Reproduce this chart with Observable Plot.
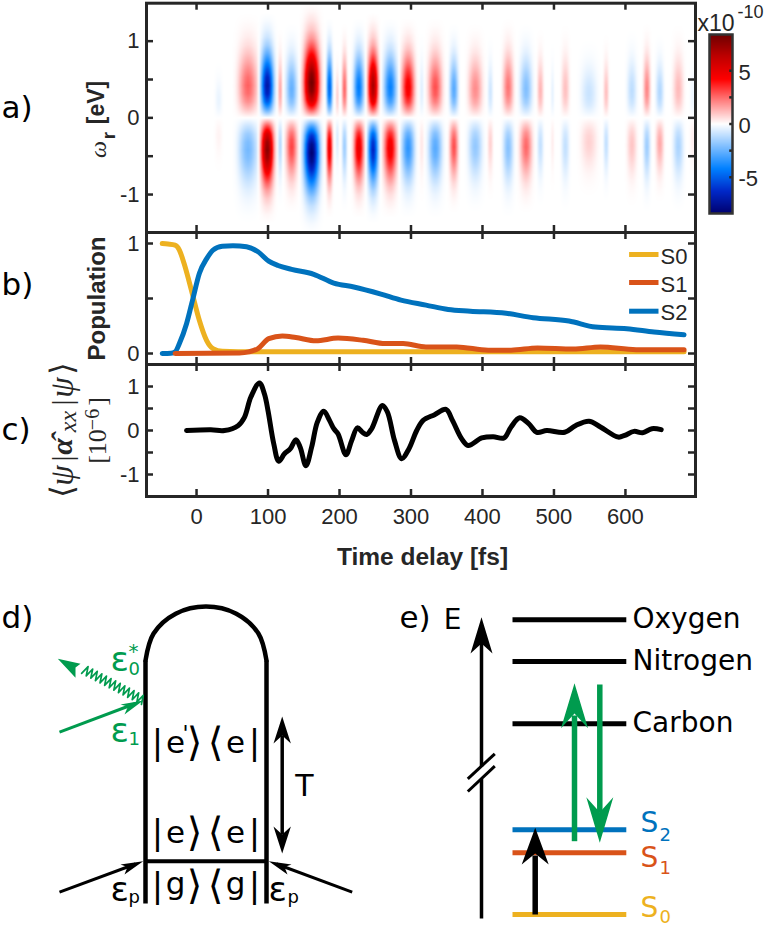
<!DOCTYPE html>
<html>
<head>
<meta charset="utf-8">
<script src="https://cdn.jsdelivr.net/npm/d3@7"></script>
<script src="https://cdn.jsdelivr.net/npm/@observablehq/plot@0.6"></script>
<style>
  body { margin: 0; background: #fff; }
  #chart { position: relative; width: 764px; height: 925px; overflow: hidden; }
  #chart svg { position: absolute; left: 0; top: 0; background: transparent; }
</style>
</head>
<body>
<div id="chart"></div>
<script>
// stripes of panel a, peak value above and below omega = 0
const stripeTime = [31, 72, 99, 117, 133, 161, 186, 197, 207, 227, 247, 271, 296, 315, 334, 360, 390, 411, 436, 461, 481, 498, 516, 549, 573, 609, 630, 648, 674, 694]
const stripeUpper = [-0.35, 2.7, -7.2, 1.5, -2.6, 8.4, -5, 0.8, 2.6, -4.4, 7, -4.2, 4.6, -0.5, 3, -2.8, 2, -0.8, 2.4, -2.1, 1.3, -0.4, 1.1, -0.9, 1.1, -1.1, 2.1, -1.3, 1.2, -0.3]
const stripeLower = [0.2, -2.3, 7.8, -1.2, 3.2, -8.4, 5, -0.6, -1.6, 5, -6.5, 4.8, -3.5, 0.4, -2.8, 3, -1.8, 0.8, -2, 2.6, -1, 0.3, -1, 0.8, -1, 1, -1.6, 1.5, -1.4, 0.3]
const stripeHalfWidth = [8, 22, 15, 5, 13, 18, 7, 4, 6, 12, 12, 15, 15, 5, 16, 10, 16, 6, 12, 14, 7, 4, 9, 18, 6, 11, 8, 9, 12, 6]
const stripeReach = [0.6, 1.05, 1.05, 0.9, 0.95, 1.15, 1, 0.7, 0.95, 1, 1.05, 1, 1, 0.9, 1, 0.95, 0.95, 0.85, 1, 0.95, 0.9, 0.8, 0.95, 0.8, 0.85, 0.9, 0.95, 0.85, 0.95, 0.7]
const omegaSteps = [0, 0.1, 0.2, 0.3, 0.4, 0.5, 0.6, 0.7, 0.8, 0.9, 1, 1.1, 1.2, 1.3]
const omegaProfile = [0, 0.38, 0.72, 0.93, 1, 0.92, 0.75, 0.55, 0.37, 0.22, 0.12, 0.06, 0.02, 0]
const bumpSteps = [0, 0.17, 0.33, 0.5, 0.67, 0.83, 1]
const bumpProfile = [1, 0.92, 0.72, 0.45, 0.2, 0.06, 0]
const mapStops = ['#00006e', '#0028c8', '#0080ff', '#80bfff', '#ffffff', '#ff8585', '#ff0000', '#c00000', '#6e0000']

// populations of panel b
const s0Time = [-48, -40, -30, -24, -17.5, -11, -5, 4, 14, 23, 36, 80, 682]
const s0Value = [1, 0.995, 0.985, 0.94, 0.82, 0.67, 0.52, 0.3, 0.12, 0.045, 0.02, 0.015, 0.015]
const s1Time = [-30, 60, 73, 86, 101, 120, 139, 167, 198, 233, 264, 289, 321, 364, 408, 440, 477, 527, 565, 615, 682]
const s1Value = [0, 0.005, 0.015, 0.045, 0.135, 0.16, 0.145, 0.115, 0.14, 0.12, 0.09, 0.09, 0.06, 0.06, 0.03, 0.03, 0.05, 0.04, 0.06, 0.035, 0.035]
const s2Time = [-48, -36, -30, -24, -14, -5, 4, 14, 23, 36, 51, 70, 86, 101, 114, 133, 164, 192, 220, 258, 286, 321, 352, 383, 433, 471, 521, 558, 602, 640, 682]
const s2Value = [0, 0.003, 0.015, 0.09, 0.27, 0.5, 0.73, 0.86, 0.94, 0.975, 0.98, 0.97, 0.925, 0.84, 0.8, 0.765, 0.72, 0.64, 0.605, 0.54, 0.485, 0.44, 0.4, 0.385, 0.365, 0.325, 0.295, 0.24, 0.225, 0.195, 0.17]

// signal of panel c
const sigTime = [-14, 20, 39, 58, 67, 76, 88, 95, 100, 108, 115, 123, 131, 139, 145, 153, 161, 169, 178, 186, 192, 198, 209, 217, 225, 232, 238, 245, 260, 267, 277, 287, 297, 308, 317, 333, 349, 358, 371, 380, 399, 415, 430, 440, 452, 465, 476, 490, 515, 530, 549, 565, 590, 599, 612, 624, 637, 650]
const sigValue = [0, 0.015, 0, 0.11, 0.3, 0.76, 1.08, 0.83, 0.45, -0.3, -0.7, -0.53, -0.42, -0.21, -0.38, -0.8, -0.38, 0.19, 0.44, 0.23, 0.04, -0.08, -0.55, -0.23, 0.06, -0.04, -0.09, 0.04, 0.57, 0.42, -0.23, -0.64, -0.42, 0, 0.23, 0.36, 0.48, 0.23, -0.19, -0.34, -0.17, -0.14, -0.17, 0.08, 0.29, 0.15, -0.04, 0, -0.04, 0.11, 0.21, 0.08, -0.15, -0.11, -0.02, -0.05, 0.04, 0.02]

const timeTicks = [0, 100, 200, 300, 400, 500, 600]
const xDomain = [-70, 698]
const axisColor = '#262626'
const colors = {S0: '#EDB120', S1: '#D95319', S2: '#0072BD'}
const green = '#009B4E'

// energy levels of panel e
const levelNames = ['Oxygen', 'Nitrogen', 'Carbon', 'S2', 'S1', 'S0']
const levelY = [619.3, 661, 723.3, 829.3, 852.3, 914]
const levelColor = ['#000', '#000', '#000', colors.S2, colors.S1, colors.S0]

const table = (xs, ys) => xs.map((x, i) => ({x, y: ys[i]}))
const omegaLookup = d3.scaleLinear(omegaSteps, omegaProfile).clamp(true)
const bumpLookup = d3.scaleLinear(bumpSteps, bumpProfile).clamp(true)

const spectrum = (t, w) => {
  const amps = w >= 0 ? stripeUpper : stripeLower
  let v = 0
  stripeTime.forEach((c, i) => {
    v += amps[i] * bumpLookup(Math.abs(t - c) / stripeHalfWidth[i]) * omegaLookup(Math.abs(w) / stripeReach[i])
  })
  return v
}

const colorScale = {type: 'linear', domain: [-8.4, 8.4], interpolate: d3.piecewise(d3.interpolateRgb, mapStops)}

// one svg per panel, all of them page sized and stacked, the margins place the frame
const panelStyle = {fontFamily: 'Liberation Sans', fontSize: '22px', color: axisColor, background: 'transparent'}
const panel = (top, bottom, yDomain, yTicks, minorTicks, marks, showTime) => {
  const tickY = (yDomain[1] - yDomain[0]) / (bottom - top) * 7
  const tickX = (xDomain[1] - xDomain[0]) / 549 * 7
  return Plot.plot({
    width: 764,
    height: 925,
    marginLeft: 146,
    marginRight: 764 - 695,
    marginTop: top,
    marginBottom: 925 - bottom,
    style: panelStyle,
    color: colorScale,
    x: {domain: xDomain, label: null},
    y: {domain: yDomain, label: null},
    marks: [
      ...marks,
      Plot.ruleX(timeTicks, {x: d => d, y1: yDomain[0], y2: yDomain[0] + tickY, stroke: axisColor, strokeWidth: 2.5}),
      Plot.ruleX(timeTicks, {x: d => d, y1: yDomain[1], y2: yDomain[1] - tickY, stroke: axisColor, strokeWidth: 2.5}),
      Plot.ruleY(yTicks.concat(minorTicks), {y: d => d, x1: xDomain[0], x2: xDomain[0] + tickX, stroke: axisColor, strokeWidth: 2.5}),
      Plot.ruleY(yTicks.concat(minorTicks), {y: d => d, x1: xDomain[1], x2: xDomain[1] - tickX, stroke: axisColor, strokeWidth: 2.5}),
      Plot.frame({stroke: axisColor, strokeWidth: 3}),
      Plot.axisY(yTicks, {anchor: 'left', tickSize: 0, tickPadding: 7, tickFormat: d => String(d), label: null, fontSize: 22, fill: axisColor}),
      showTime
        ? Plot.axisX(timeTicks, {anchor: 'bottom', tickSize: 0, tickPadding: 12, tickFormat: d => String(d), label: null, fontSize: 22, fill: axisColor})
        : Plot.axisX([], {anchor: 'bottom', tickSize: 0, label: null}),
    ],
  })
}

const panelA = panel(2.7, 232, [-1.495, 1.495], [-1, 0, 1], [-0.5, 0.5], [
  Plot.raster({x1: xDomain[0], x2: xDomain[1], y1: -1.495, y2: 1.495, fill: spectrum}),
])

const popLine = (xs, ys, color) => Plot.line(table(xs, ys), {x: 'x', y: 'y', stroke: color, strokeWidth: 5, curve: 'monotone-x'})
const panelB = panel(232, 364, [-0.1, 1.1], [0, 1], [0.5], [
  popLine(s0Time, s0Value, colors.S0),
  popLine(s2Time, s2Value, colors.S2),
  popLine(s1Time, s1Value, colors.S1),
])

const panelC = panel(364, 496, [-1.5, 1.5], [-1, 0, 1], [-0.5, 0.5], [
  Plot.line(table(sigTime, sigValue), {x: 'x', y: 'y', stroke: '#000', strokeWidth: 5, curve: 'catmull-rom'}),
], true)

// colour bar
const barMinor = [-2.5, 2.5]
const barTicks = [-5, 0, 5]
const colorBar = Plot.plot({
  width: 764,
  height: 925,
  marginLeft: 709,
  marginRight: 764 - 732,
  marginTop: 34,
  marginBottom: 925 - 213,
  style: panelStyle,
  color: colorScale,
  x: {domain: [0, 1], axis: null},
  y: {domain: [-8.4, 8.4], axis: null},
  marks: [
    Plot.raster({x1: 0, x2: 1, y1: -8.4, y2: 8.4, fill: (x, y) => y}),
    Plot.ruleY(barTicks.concat(barMinor), {y: d => d, x1: 0.88, x2: 1, stroke: axisColor, strokeWidth: 2.5}),
    Plot.frame({stroke: '#333', strokeWidth: 2.5}),
    Plot.text(barTicks, {y: d => d, x: 1, dx: 6, dy: 2, text: d => String(d), textAnchor: 'start', fontSize: 22, fill: axisColor}),
  ],
})

// everything else is placed in page pixels
const sans = 'DejaVu Sans'
const arial = 'Liberation Sans'
const serif = 'Liberation Serif'
const labels = [
  // panel letters
  {x: 1, y: 108, text: 'a)', size: 31, font: sans},
  {x: 1, y: 285, text: 'b)', size: 31, font: sans},
  {x: 1, y: 430, text: 'c)', size: 31, font: sans},
  {x: 1, y: 618, text: 'd)', size: 31, font: sans},
  {x: 399, y: 618, text: 'e)', size: 31, font: sans},
  // axis title
  {x: 422, y: 557, text: 'Time delay [fs]', size: 24.5, font: arial, weight: 'bold', fill: axisColor, anchor: 'middle'},
  // colour bar exponent
  {x: 697, y: 23, text: 'x10', size: 23, font: arial, fill: axisColor},
  {x: 737, y: 12, text: '-10', size: 18, font: arial, fill: axisColor},
  // legend
  {x: 660, y: 256, text: 'S0', size: 22, font: arial, fill: axisColor},
  {x: 660, y: 284, text: 'S1', size: 22, font: arial, fill: axisColor},
  {x: 660, y: 312, text: 'S2', size: 22, font: arial, fill: axisColor},
  // panel d
  {x: 304, y: 786, text: 'T', size: 30, font: sans, anchor: 'middle'},
  {x: 110, y: 660, text: 'ε', size: 34, font: sans, fill: green},
  {x: 128, y: 669, text: '0', size: 18, font: sans, fill: green},
  {x: 128, y: 651, text: '*', size: 20, font: sans, fill: green},
  {x: 110, y: 731, text: 'ε', size: 34, font: sans, fill: green},
  {x: 128, y: 739, text: '1', size: 18, font: sans, fill: green},
  {x: 110, y: 890, text: 'ε', size: 34, font: sans},
  {x: 128, y: 897, text: 'p', size: 18, font: sans},
  {x: 268, y: 890, text: 'ε', size: 34, font: sans},
  {x: 287, y: 897, text: 'p', size: 18, font: sans},
  // panel e
  {x: 452, y: 620, text: 'E', size: 28, font: sans, anchor: 'middle'},
  {x: 632, y: 619, text: 'Oxygen', size: 28, font: sans},
  {x: 632, y: 661, text: 'Nitrogen', size: 28, font: sans},
  {x: 632, y: 723, text: 'Carbon', size: 28, font: sans},
  {x: 640, y: 823, text: 'S', size: 28, font: sans, fill: colors.S2},
  {x: 659, y: 835, text: '2', size: 18, font: sans, fill: colors.S2},
  {x: 640, y: 858, text: 'S', size: 28, font: sans, fill: colors.S1},
  {x: 659, y: 868, text: '1', size: 18, font: sans, fill: colors.S1},
  {x: 640, y: 908, text: 'S', size: 28, font: sans, fill: colors.S0},
  {x: 659, y: 917, text: '0', size: 18, font: sans, fill: colors.S0},
]

// the three bra-ket rows inside the diagram, piece by piece
const ketX = [157, 175, 194, 215, 235, 254]
const ketRows = [{y: 743, s: 'e'}, {y: 833, s: 'e'}, {y: 886, s: 'g'}]
ketRows.forEach(({y, s}) => {
  ;['|', s, '⟩', '⟨', s, '|'].forEach((text, i) => {
    const bracket = text === '⟩' || text === '⟨'
    labels.push({x: ketX[i], y: y - (s === 'g' && !bracket && text !== '|' ? 2 : 0), text, size: bracket ? 40 : text === '|' ? 34 : 31, font: sans, anchor: 'middle'})
  })
})
labels.push({x: 185, y: 733, text: "'", size: 22, font: sans, anchor: 'middle'})

const rotated = [
  {x: 97, y: 298, text: 'Population', size: 24, font: arial, weight: 'bold'},
  {x: 96, y: 102, text: '[eV]', size: 23, font: arial, weight: 'bold'},
  {x: 108, y: 135, text: 'r', size: 19, font: arial, weight: 'bold'},
  {x: 98, y: 149, text: 'ω', size: 24, font: serif, style: 'italic'},
  {x: 62, y: 491, text: '⟨', size: 32, font: 'DejaVu Serif'},
  {x: 62, y: 475, text: 'ψ', size: 33, font: serif, style: 'italic'},
  {x: 62, y: 458, text: '|', size: 30, font: serif},
  {x: 62, y: 446, text: 'α̂', size: 30, font: serif, style: 'italic', weight: 'bold'},
  {x: 68, y: 421, text: 'xx', size: 24, font: serif, style: 'italic'},
  {x: 62, y: 402, text: '|', size: 30, font: serif},
  {x: 62, y: 387, text: 'ψ', size: 33, font: serif, style: 'italic'},
  {x: 62, y: 368, text: '⟩', size: 32, font: 'DejaVu Serif'},
  {x: 97, y: 446, text: '[10', size: 26, font: serif},
  {x: 92, y: 419, text: '−6', size: 20, font: serif},
  {x: 97, y: 401, text: ']', size: 26, font: serif},
]

// filled arrow heads: tip, back corner, notch, back corner
const heads = [
  {id: 'eAxis', color: '#000', pts: [[481, 616.7], [470, 653], [481, 643], [492, 653]]},
  {id: 'up', color: green, pts: [[574, 682.7], [560.5, 727.7], [574, 713], [587.5, 727.7]]},
  {id: 'down', color: green, pts: [[599.3, 842.3], [585.8, 796.7], [599.3, 811.7], [612.8, 796.7]]},
  {id: 'pump', color: '#000', pts: [[534.7, 827.3], [521.2, 864], [534.7, 853], [548.2, 864]]},
  {id: 'tTop', color: '#000', pts: [[281.7, 716], [273, 743], [281.7, 735], [290.4, 743]]},
  {id: 'tBottom', color: '#000', pts: [[281.7, 853], [273, 826], [281.7, 834], [290.4, 826]]},
  {id: 'e1', color: green, pts: [[142.7, 700], [120, 704], [127.5, 706], [124, 714]]},
  {id: 'e0', color: green, pts: [[57.3, 658.3], [80, 663.3], [75, 667], [75, 677.3]]},
  {id: 'pLeft', color: '#000', pts: [[142.7, 860.7], [120, 864], [127, 866.5], [124, 874]]},
  {id: 'pRight', color: '#000', pts: [[268.3, 860.7], [291, 864], [284, 866.5], [287, 874]]},
].flatMap(h => h.pts.map(([x, y]) => ({x, y, id: h.id, color: h.color})))

// plain segments
const segments = [
  [145, 660, 145, 903, 4.5, '#000'],
  [266, 660, 266, 903, 4.5, '#000'],
  [145, 860.7, 266, 860.7, 4, '#000'],
  [59, 731.7, 135, 703, 3, green],
  [59, 891.7, 135, 863.5, 3, '#000'],
  [351.7, 891.7, 276, 863.5, 3, '#000'],
  [281.7, 735, 281.7, 834, 3.5, '#000'],
  [481, 918, 481, 778.5, 3.5, '#000'],
  [481, 766, 481, 640, 3.5, '#000'],
  [467.3, 778.3, 494.3, 753.3, 3, '#000'],
  [467.3, 791, 494.3, 765.7, 3, '#000'],
  [574, 840.7, 574, 715, 5.5, green],
  [599.3, 684, 599.3, 812, 5.5, green],
  [534.7, 914, 534.7, 855, 5.5, '#000'],
  [628.6, 254, 658, 254, 5, colors.S0],
  [628.6, 282, 658, 282, 5, colors.S1],
  [628.6, 310.7, 658, 310.7, 5, colors.S2],
].map(([x1, y1, x2, y2, w, color]) => ({x1, y1, x2, y2, w, color}))

const arch = [[145, 660], [153.1, 633], [175.2, 613.2], [205.5, 606], [235.8, 613.2], [257.9, 633], [266, 660]]

// zigzag of the emitted field, from the rail up to its arrow head
const zigzag = d3.range(0, 27).map(i => {
  const x = 143 - i * 2.3
  const y = 700 - i * 2.3 * 0.52
  const off = i % 2 ? 4.5 : -4.5
  return [x + off * 0.46, y - off * 0.89]
})

const textMark = (d, extra) => Plot.text([d], {
  x: 'x', y: 'y', text: 'text', fontSize: d.size, fontFamily: d.font, lineAnchor: 'middle',
  fontWeight: d.weight || 'normal', fontStyle: d.style || 'normal',
  ...extra,
})

const page = Plot.plot({
  width: 764,
  height: 925,
  margin: 0,
  style: {background: 'transparent'},
  x: {domain: [0, 764], axis: null},
  y: {domain: [925, 0], axis: null},
  marks: [
    Plot.ruleY(levelY, {y: d => d, x1: 512.5, x2: 626.3, stroke: (d, i) => levelColor[i], strokeWidth: 5}),
    Plot.link(segments, {x1: 'x1', y1: 'y1', x2: 'x2', y2: 'y2', stroke: d => d.color, strokeWidth: d => d.w}),
    Plot.line(arch, {x: d => d[0], y: d => d[1], stroke: '#000', strokeWidth: 4.5, curve: 'catmull-rom'}),
    Plot.line(zigzag, {x: d => d[0], y: d => d[1], stroke: green, strokeWidth: 1.7}),
    Plot.line(heads, {x: 'x', y: 'y', z: 'id', fill: d => d.color, stroke: 'none'}),
    ...labels.map(d => textMark(d, {fill: d.fill || '#000', textAnchor: d.anchor || 'start'})),
    ...rotated.map(d => textMark(d, {rotate: -90, fill: axisColor, textAnchor: 'middle'})),
  ],
})

const chart = d3.select('#chart')
for (const svg of [panelA, panelB, panelC, colorBar, page]) chart.append(() => svg)
</script>
</body>
</html>
